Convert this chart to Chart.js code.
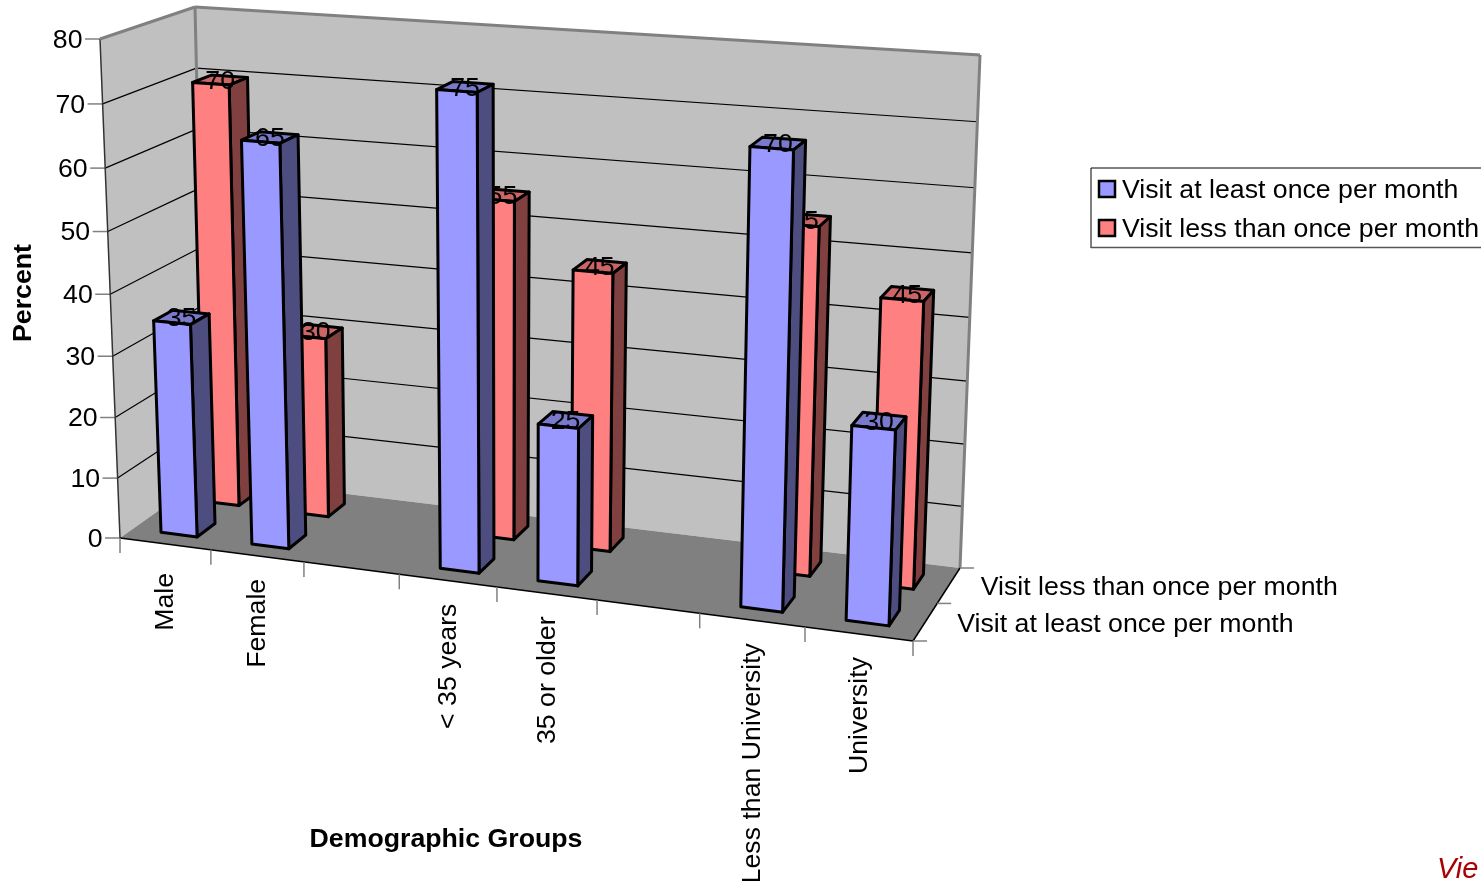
<!DOCTYPE html>
<html>
<head>
<meta charset="utf-8">
<title>Restaurant visits by demographic group</title>
<script src="https://cdn.jsdelivr.net/npm/chart.js@4/dist/chart.umd.js"></script>
<style>
html,body{margin:0;padding:0;background:#fff;overflow:hidden}
canvas{display:block}
</style>
</head>
<body>
<canvas id="c" width="1481" height="881"></canvas>
<script>
// Chart data
const categories = ['Male', 'Female', '', '< 35 years', '35 or older', '', 'Less than University', 'University'];
const seriesNames = ['Visit at least once per month', 'Visit less than once per month'];
const atLeastOnce = [35, 65, null, 75, 25, null, 70, 30];
const lessThanOnce = [70, 30, null, 55, 45, null, 55, 45];
const yTitle = 'Percent';
const xTitle = 'Demographic Groups';
const footerLink = 'Vie';

// Box corners of the 3D plot on the page, indexed [right][top][back]
const corners = [
  [[[120, 538], [206, 477]], [[100, 39], [195, 7]]],
  [[[913, 641], [960, 568]], [[932, 97], [980, 55]]]
];
// Homogeneous weights that give the box its perspective
const persp = { right: 0.906, top: 0.955, back: 1.06 };
const barDepth = 0.21;
const barShift = 0.0015;
const FONT = '"Liberation Sans", Arial, sans-serif';
const TEXT_PX = 26.7;
const TEXT_DY = 1.5;
const labelNudge = { Male: 6 };

const palette = [
  { front: '#9999FF', top: '#7A7ACC', side: '#4D4D80' },
  { front: '#FF8080', top: '#CC6666', side: '#804040' }
];

function project(u, v, d) {
  let nx = 0, ny = 0, den = 0;
  for (const r of [0, 1]) for (const t of [0, 1]) for (const b of [0, 1]) {
    const w = (r ? u : 1 - u) * (t ? v : 1 - v) * (b ? d : 1 - d)
      * (r ? persp.right : 1) * (t ? persp.top : 1) * (b ? persp.back : 1);
    nx += w * corners[r][t][b][0];
    ny += w * corners[r][t][b][1];
    den += w;
  }
  return [nx / den, ny / den];
}

function poly(ctx, pts, fill, stroke, lw) {
  ctx.beginPath();
  pts.forEach((p, i) => i ? ctx.lineTo(p[0], p[1]) : ctx.moveTo(p[0], p[1]));
  ctx.closePath();
  if (fill) { ctx.fillStyle = fill; ctx.fill(); }
  if (stroke) { ctx.strokeStyle = stroke; ctx.lineWidth = lw; ctx.stroke(); }
}

function line(ctx, a, b, color, lw) {
  ctx.beginPath();
  ctx.moveTo(a[0], a[1]);
  ctx.lineTo(b[0], b[1]);
  ctx.strokeStyle = color;
  ctx.lineWidth = lw;
  ctx.stroke();
}

// A bar element that renders its rectangle as a box inside the projected plot
class Bar3DElement extends Chart.BarElement {
  static id = 'bar3d';
  static defaults = Chart.BarElement.defaults;
  draw(ctx) {
    const { chart, index, value } = this.owner;
    const area = chart.chartArea;
    const { x, y, base, width } = this.getProps(['x', 'y', 'base', 'width']);
    const u0 = (x - width / 2 - area.left) / area.width + barShift;
    const u1 = (x + width / 2 - area.left) / area.width + barShift;
    const v0 = (area.bottom - base) / area.height;
    const v1 = (area.bottom - y) / area.height;
    const dc = (index + 0.5) / chart.data.datasets.length;
    const d0 = dc - barDepth / 2, d1 = dc + barDepth / 2;
    const c = palette[index];
    ctx.save();
    ctx.lineJoin = 'round';
    const lw = 3;
    poly(ctx, [project(u0, v1, d0), project(u1, v1, d0), project(u1, v1, d1), project(u0, v1, d1)], c.top, '#000', lw);
    poly(ctx, [project(u1, v0, d0), project(u1, v1, d0), project(u1, v1, d1), project(u1, v0, d1)], c.side, '#000', lw);
    poly(ctx, [project(u0, v0, d0), project(u1, v0, d0), project(u1, v1, d0), project(u0, v1, d0)], c.front, '#000', lw);
    // Value label centred over the top face
    const m = project((u0 + u1) / 2, v1, dc);
    ctx.font = TEXT_PX + 'px ' + FONT;
    ctx.fillStyle = '#000';
    ctx.textAlign = 'center';
    ctx.textBaseline = 'middle';
    ctx.fillText(String(value), m[0], m[1] + TEXT_DY);
    ctx.restore();
  }
}

class Bar3DController extends Chart.BarController {
  static id = 'bar3d';
  static defaults = { ...Chart.BarController.defaults, dataElementType: 'bar3d' };
  static overrides = Chart.BarController.overrides;
  draw() {
    const meta = this._cachedMeta;
    meta.data.forEach((el, i) => {
      el.owner = { chart: this.chart, index: this.index, value: this.getParsed(i).y };
    });
    super.draw();
  }
}

Chart.register(Bar3DElement, Bar3DController);

// Walls, floor, grid, ticks and every text outside the bars
const frame = {
  id: 'frame',
  beforeDatasetsDraw(chart) {
    const ctx = chart.ctx, ys = chart.scales.y, xs = chart.scales.x, area = chart.chartArea;
    const vOf = val => (area.bottom - ys.getPixelForValue(val)) / area.height;
    ctx.save();
    poly(ctx, [project(0,0,1), project(1,0,1), project(1,1,1), project(0,1,1)], '#C0C0C0');
    poly(ctx, [project(0,0,0), project(0,0,1), project(0,1,1), project(0,1,0)], '#C0C0C0');
    poly(ctx, [project(0,0,0), project(1,0,0), project(1,0,1), project(0,0,1)], '#808080');

    // Horizontal grid on both walls and value ticks on the front-left edge
    ctx.font = TEXT_PX + 'px ' + FONT;
    ctx.textAlign = 'right';
    ctx.textBaseline = 'middle';
    for (const tick of ys.ticks) {
      const v = vOf(tick.value);
      const a = project(0, v, 0);
      if (tick.value > 0 && tick.value < ys.max) {
        line(ctx, a, project(0, v, 1), '#000', 1.2);
        line(ctx, project(0, v, 1), project(1, v, 1), '#000', 1.2);
      }
      line(ctx, [a[0] - 15, a[1]], a, '#808080', 1.5);
      ctx.fillStyle = '#000';
      ctx.fillText(String(tick.value), a[0] - 17.5, a[1] + TEXT_DY);
    }

    // Gray outline of the walls
    line(ctx, project(0,1,0), project(0,0,0), '#333', 1.5);
    line(ctx, project(0,1,0), project(0,1,1), '#808080', 3);
    line(ctx, project(0,1,1), project(1,1,1), '#808080', 3);
    line(ctx, project(0,1,1), project(0,0,1), '#808080', 3);
    line(ctx, project(1,1,1), project(1,0,1), '#808080', 3);

    // Floor front and side edges
    line(ctx, project(0,0,0), project(1,0,0), '#000', 1.5);
    line(ctx, project(1,0,0), project(1,0,1), '#000', 1.5);

    // Category ticks and rotated labels below the front edge
    const labels = xs.getLabels();
    const n = labels.length;
    for (let i = 0; i <= n; i++) {
      const p = project(i / n, 0, 0);
      line(ctx, p, [p[0], p[1] + 15], '#808080', 1.5);
    }
    ctx.fillStyle = '#000';
    labels.forEach((text, i) => {
      if (!text) return;
      const u = (xs.getPixelForValue(i) - area.left) / area.width;
      const p = project(u, 0, 0);
      ctx.save();
      ctx.translate(p[0] + 0.5, p[1] + 23 + (labelNudge[text] || 0));
      ctx.rotate(-Math.PI / 2);
      ctx.textAlign = 'right';
      ctx.textBaseline = 'middle';
      ctx.fillText(text, 0, 0);
      ctx.restore();
    });

    // Series labels along the depth axis
    const sets = chart.data.datasets;
    sets.forEach((ds, i) => {
      const p = project(1, 0, (i + 0.5) / sets.length);
      ctx.textAlign = 'left';
      ctx.textBaseline = 'middle';
      ctx.fillText(ds.label, p[0] + 32, p[1] + 1 + TEXT_DY);
    });
    for (let i = 0; i <= sets.length; i++) {
      const p = project(1, 0, i / sets.length);
      line(ctx, p, [p[0] + 14, p[1]], '#808080', 1.5);
    }

    // Axis titles
    ctx.font = 'bold ' + TEXT_PX + 'px ' + FONT;
    ctx.textAlign = 'center';
    ctx.textBaseline = 'middle';
    ctx.fillText(xs.options.title.text, 446, 840);
    ctx.save();
    ctx.translate(24, 293);
    ctx.rotate(-Math.PI / 2);
    ctx.fillText(ys.options.title.text, 0, 0);
    ctx.restore();

    // Legend box, open on the right where the page ends
    ctx.fillStyle = '#fff';
    ctx.fillRect(1091, 168, 400, 80);
    line(ctx, [1091, 168], [1481, 168], '#000', 1);
    line(ctx, [1091, 168], [1091, 248], '#000', 1);
    line(ctx, [1091, 247.5], [1481, 247.5], '#555', 1.5);
    sets.forEach((ds, i) => {
      const y = 189 + i * 39;
      poly(ctx, [[1099, y - 8], [1115, y - 8], [1115, y + 8], [1099, y + 8]], palette[i].front, '#000', 2.5);
      ctx.font = TEXT_PX + 'px ' + FONT;
      ctx.fillStyle = '#000';
      ctx.textAlign = 'left';
      ctx.textBaseline = 'middle';
      ctx.fillText(ds.label, 1122, y + TEXT_DY);
    });

    // Link text in the page corner
    ctx.font = 'italic 29px ' + FONT;
    ctx.fillStyle = '#AA0000';
    ctx.textAlign = 'left';
    ctx.textBaseline = 'alphabetic';
    ctx.fillText(footerLink, 1437, 878);
    ctx.restore();
  }
};

new Chart(document.getElementById('c'), {
  type: 'bar3d',
  data: {
    labels: categories,
    datasets: [
      { label: seriesNames[0], data: atLeastOnce, backgroundColor: palette[0].front },
      { label: seriesNames[1], data: lessThanOnce, backgroundColor: palette[1].front }
    ]
  },
  options: {
    responsive: false,
    animation: false,
    layout: { padding: 0 },
    grouped: false,
    categoryPercentage: 1,
    barPercentage: 0.40,
    plugins: { legend: { display: false }, title: { display: false }, tooltip: { enabled: false } },
    scales: {
      x: { type: 'category', display: false, offset: true, title: { text: xTitle } },
      y: { type: 'linear', display: false, min: 0, max: 80, ticks: { stepSize: 10 }, title: { text: yTitle } }
    }
  },
  plugins: [frame]
});
</script>
</body>
</html>
